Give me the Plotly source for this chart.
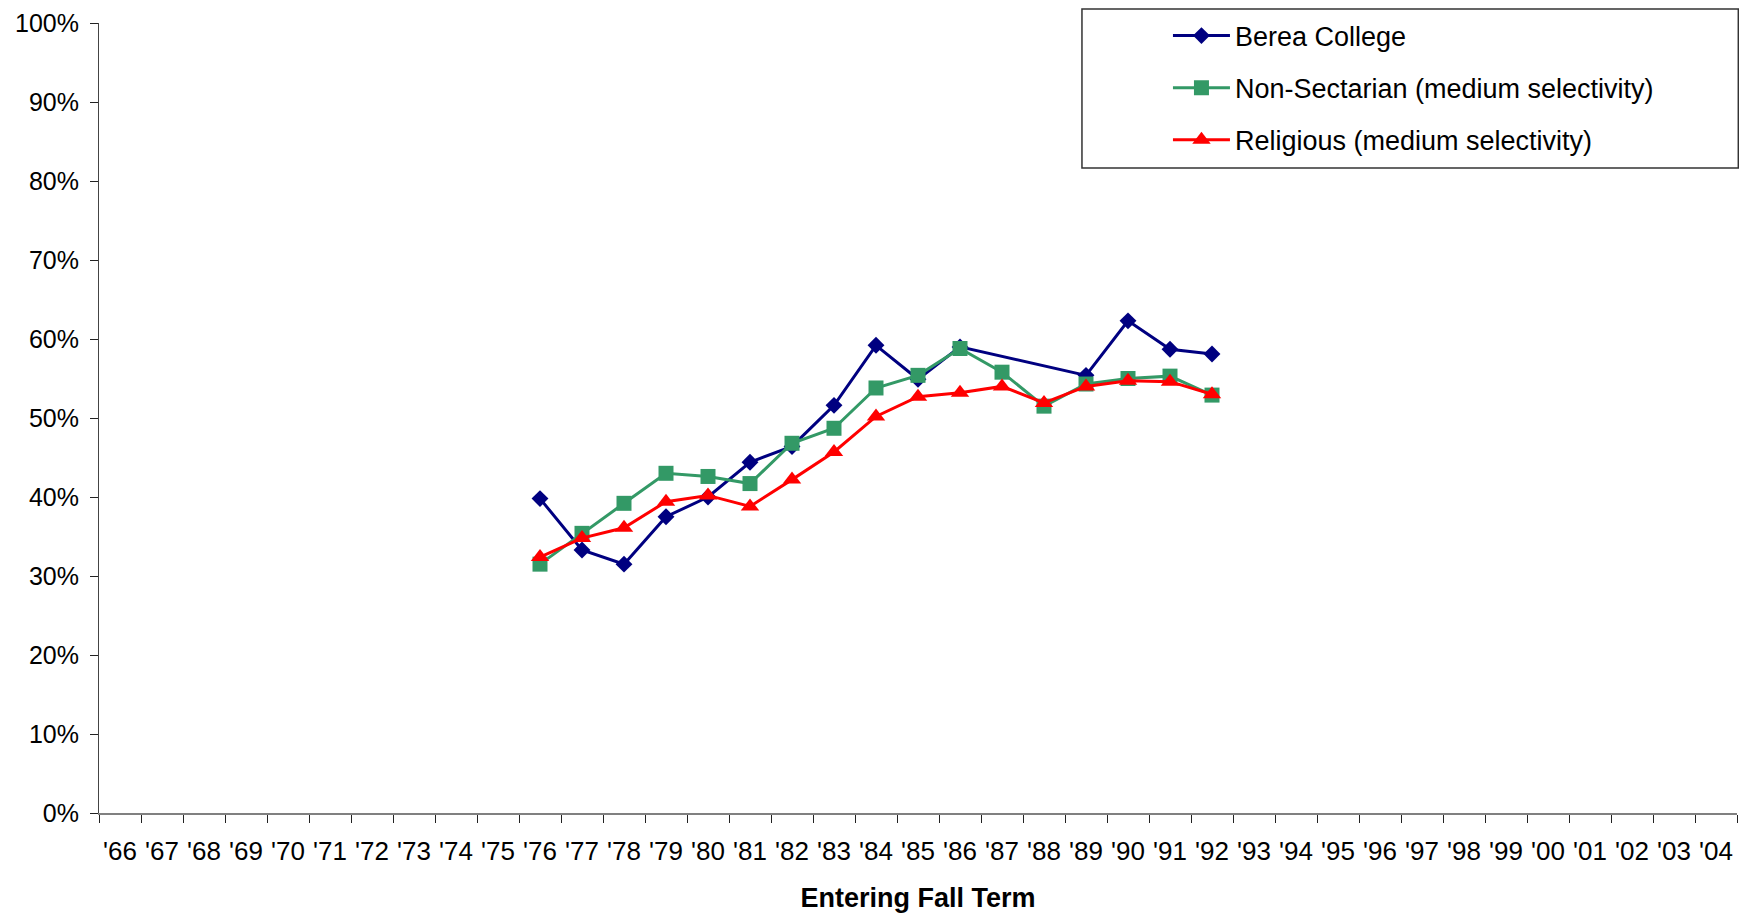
import plotly.graph_objects as go

# Entering fall terms '66 .. '04
years = [f"'{y % 100:02d}" for y in range(1966, 2005)]
data_years = [f"'{y % 100:02d}" for y in range(1976, 1993)]

berea = [0.398, 0.333, 0.315, 0.375, 0.400, 0.444, 0.464, 0.516, 0.592, 0.549,
         0.590, None, None, 0.554, 0.623, 0.587, 0.581]
non_sectarian = [0.315, 0.354, 0.392, 0.430, 0.426, 0.417, 0.468, 0.487, 0.538, 0.554,
                 0.588, 0.558, 0.515, 0.543, 0.550, 0.553, 0.529]
religious = [0.324, 0.348, 0.361, 0.394, 0.402, 0.388, 0.422, 0.457, 0.502, 0.527,
             0.532, 0.540, 0.519, 0.540, 0.547, 0.546, 0.530]

fig = go.Figure()
fig.add_trace(go.Scatter(
    x=data_years, y=berea, mode="lines+markers", name="Berea College",
    legendgroup="a", connectgaps=True,
    line=dict(color="#000080", width=3),
    marker=dict(symbol="diamond", size=13, color="#000080")
))
fig.add_trace(go.Scatter(
    x=data_years, y=non_sectarian, mode="lines+markers",
    name="Non-Sectarian (medium selectivity)", legendgroup="b",
    line=dict(color="#339966", width=3),
    marker=dict(symbol="square", size=15, color="#339966")
))
fig.add_trace(go.Scatter(
    x=data_years, y=religious, mode="lines+markers",
    name="Religious (medium selectivity)", legendgroup="c",
    line=dict(color="#FF0000", width=3),
    marker=dict(symbol="triangle-up", size=16, color="#FF0000")
))

# legend frame
fig.add_shape(type="rect", xref="paper", yref="paper",
              x0=0.6001, x1=1.0008, y0=0.8165, y1=1.0177,
              line=dict(color="#333333", width=1.5), fillcolor="rgba(0,0,0,0)")

# page body has an 8px margin, so the figure is offset by 8px in the window
fig.update_layout(
    width=1731, height=905,
    margin=dict(l=91, r=2, t=15, b=100, autoexpand=False),
    plot_bgcolor="white", paper_bgcolor="white",
    font=dict(family="Liberation Sans, Arial, sans-serif", size=22, color="#000000"),
    showlegend=True,
    legend=dict(x=0.6526, y=1.0145, xanchor="left", yanchor="top",
                bgcolor="rgba(0,0,0,0)", tracegroupgap=14,
                font=dict(size=27), itemwidth=57),
    xaxis=dict(
        type="category", categoryorder="array", categoryarray=years,
        range=[-0.5, len(years) - 0.5], tickson="boundaries",
        showline=True, linecolor="#808080", linewidth=2,
        ticks="outside", ticklen=8, tickcolor="#222222", tickwidth=1,
        showgrid=False, zeroline=False, automargin=False,
        tickangle=0, tickfont=dict(size=26), ticklabelstandoff=14,
        title=dict(text="<b>Entering Fall Term</b>", font=dict(size=27), standoff=25),
    ),
    yaxis=dict(
        range=[0, 1], dtick=0.1, tickformat=".0%",
        showline=True, linecolor="#444444", linewidth=1,
        ticks="outside", ticklen=8, tickcolor="#222222", tickwidth=1,
        showgrid=False, zeroline=False, automargin=False,
        tickfont=dict(size=25), ticklabelstandoff=6,
    ),
)

fig.write_html("out.html")
